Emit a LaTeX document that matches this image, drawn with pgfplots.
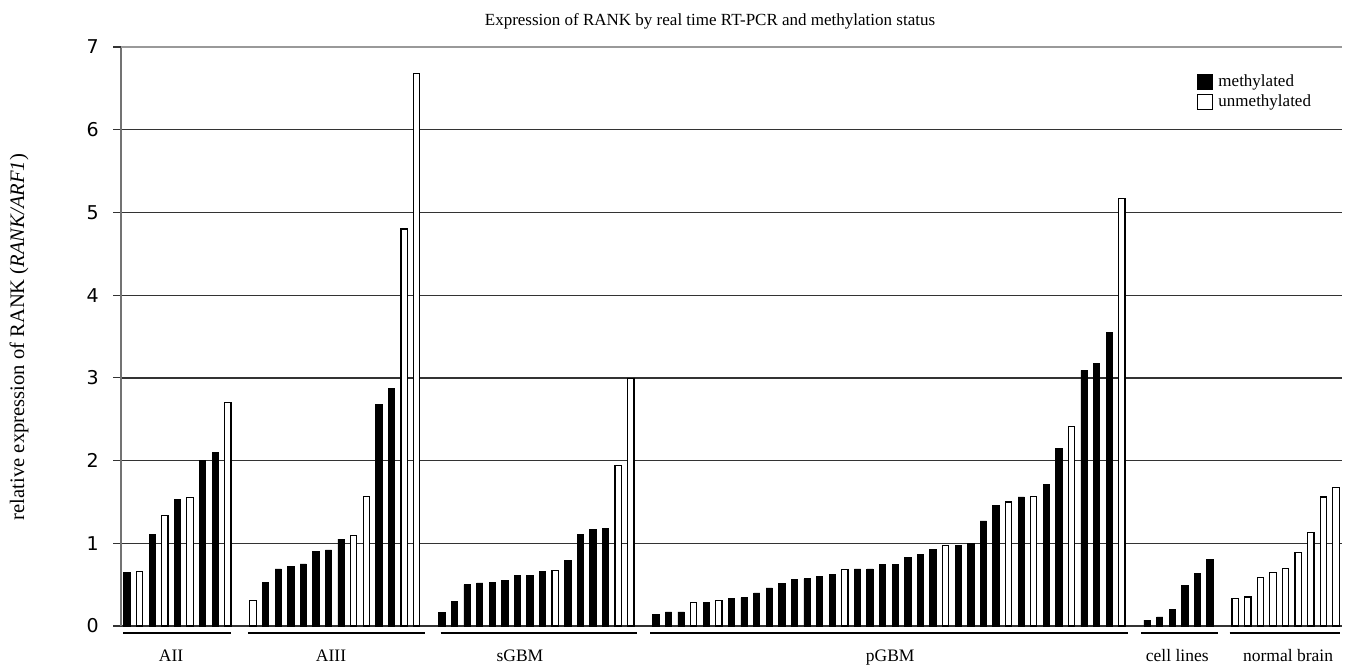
\documentclass[border=0pt]{standalone}
\usepackage{pgfplots}
\pgfplotsset{compat=1.18}
\usepackage{pgfplotstable}
\usepackage{fontspec}
\setmainfont{Liberation Serif}
\newfontfamily\dejavu{DejaVu Sans}

\pgfplotstableread{
x y
0 0.65
2 1.11
4 1.53
6 2.00
7 2.10
11 0.53
12 0.69
13 0.72
14 0.75
15 0.90
16 0.92
17 1.05
20 2.68
21 2.87
25 0.16
26 0.30
27 0.50
28 0.52
29 0.53
30 0.55
31 0.61
32 0.61
33 0.66
35 0.79
36 1.11
37 1.17
38 1.18
42 0.14
43 0.17
44 0.17
46 0.29
48 0.33
49 0.34
50 0.40
51 0.46
52 0.51
53 0.56
54 0.57
55 0.60
56 0.62
58 0.69
59 0.69
60 0.74
61 0.74
62 0.83
63 0.87
64 0.93
66 0.97
67 1.00
68 1.27
69 1.46
71 1.56
73 1.71
74 2.15
76 3.09
77 3.17
78 3.55
81 0.07
82 0.11
83 0.20
84 0.49
85 0.64
86 0.80
}\meth

\pgfplotstableread{
x y
1 0.66
3 1.34
5 1.55
8 2.70
10 0.31
18 1.09
19 1.57
22 4.80
23 6.68
34 0.67
39 1.94
40 2.99
45 0.28
47 0.31
57 0.68
65 0.97
70 1.50
72 1.57
75 2.41
79 5.17
88 0.33
89 0.35
90 0.59
91 0.65
92 0.70
93 0.89
94 1.13
95 1.56
96 1.67
}\unmeth

\begin{document}
\begin{tikzpicture}
\begin{axis}[
  name=ax,
  scale only axis,
  width=610.5pt, height=289.5pt,
  xmin=-0.48, xmax=96.48,
  ymin=0, ymax=7,
  ybar, bar shift=0pt, bar width=0.5,
  axis lines*=left,
  axis line style={black!55, line width=0.6pt},
  x axis line style={black!80},
  xtick=\empty,
  ytick={0,...,6},
  extra y ticks={7},
  extra y tick style={grid style={black!40, line width=0.7pt}},
  ymajorgrids,
  grid style={black!80, line width=0.65pt},
  tick align=outside,
  major tick length=4pt,
  tick style={black!80, line width=0.6pt},
  /pgf/number format/assume math mode=true,
  yticklabel style={font=\dejavu\fontsize{9.5}{10}\selectfont, inner sep=0pt, xshift=-7pt},
  clip=false,
  legend style={draw=none, fill=none, inner sep=0pt, at={(0.8813,0.9534)}, anchor=north west,
    font=\fontsize{8.5}{9}\selectfont, column sep=2.5pt, row sep=1.8pt,
    nodes={inner sep=0pt, text height=6pt, text depth=1.8pt}},
  legend cell align=left,
  legend image code/.code={\draw[#1, line width=0.5pt] (0pt,-3.75pt) rectangle (7.5pt,3.75pt);},
]
\addplot[fill=black, draw=black, line width=0.4pt] table[x=x,y=y]{\meth};
\addlegendentry{methylated}
\addplot[fill=white, draw=black, line width=0.6pt] table[x=x,y=y]{\unmeth};
\addlegendentry{unmethylated}

\draw[line width=1.1pt] ([yshift=-3.5pt]axis cs:-0.3,0) -- ([yshift=-3.5pt]axis cs:8.25,0);
\draw[line width=1.1pt] ([yshift=-3.5pt]axis cs:9.6,0) -- ([yshift=-3.5pt]axis cs:23.65,0);
\draw[line width=1.1pt] ([yshift=-3.5pt]axis cs:24.9,0) -- ([yshift=-3.5pt]axis cs:40.5,0);
\draw[line width=1.1pt] ([yshift=-3.5pt]axis cs:41.55,0) -- ([yshift=-3.5pt]axis cs:79.5,0);
\draw[line width=1.1pt] ([yshift=-3.5pt]axis cs:80.55,0) -- ([yshift=-3.5pt]axis cs:86.65,0);
\draw[line width=1.1pt] ([yshift=-3.5pt]axis cs:87.55,0) -- ([yshift=-3.5pt]axis cs:96.35,0);

\node[anchor=base, font=\fontsize{8.75}{9}\selectfont] at ([yshift=-17.85pt]axis cs:3.5,0) {AII};
\node[anchor=base, font=\fontsize{8.75}{9}\selectfont] at ([yshift=-17.85pt]axis cs:16.2,0) {AIII};
\node[anchor=base, font=\fontsize{8.75}{9}\selectfont] at ([yshift=-17.85pt]axis cs:31.2,0) {sGBM};
\node[anchor=base, font=\fontsize{8.75}{9}\selectfont] at ([yshift=-17.85pt]axis cs:60.6,0) {pGBM};
\node[anchor=base, font=\fontsize{8.75}{9}\selectfont] at ([yshift=-17.85pt]axis cs:83.4,0) {cell lines};
\node[anchor=base, font=\fontsize{8.75}{9}\selectfont] at ([yshift=-17.85pt]axis cs:92.2,0) {normal brain};
\end{axis}
\node[anchor=base, font=\fontsize{8.5}{9}\selectfont] at ([shift={(294.5pt,300pt)}]ax.south west) {Expression of RANK by real time RT-PCR and methylation status};
\node[rotate=90, anchor=center, font=\fontsize{10.3}{11}\selectfont] at ([shift={(-51pt,144.5pt)}]ax.south west) {relative expression of RANK (\textit{RANK/ARF1})};
\pgfresetboundingbox
\path ([shift={(-60.5pt,-21.5pt)}]ax.south west) rectangle ([shift={(613pt,313pt)}]ax.south west);
\end{tikzpicture}
\end{document}
